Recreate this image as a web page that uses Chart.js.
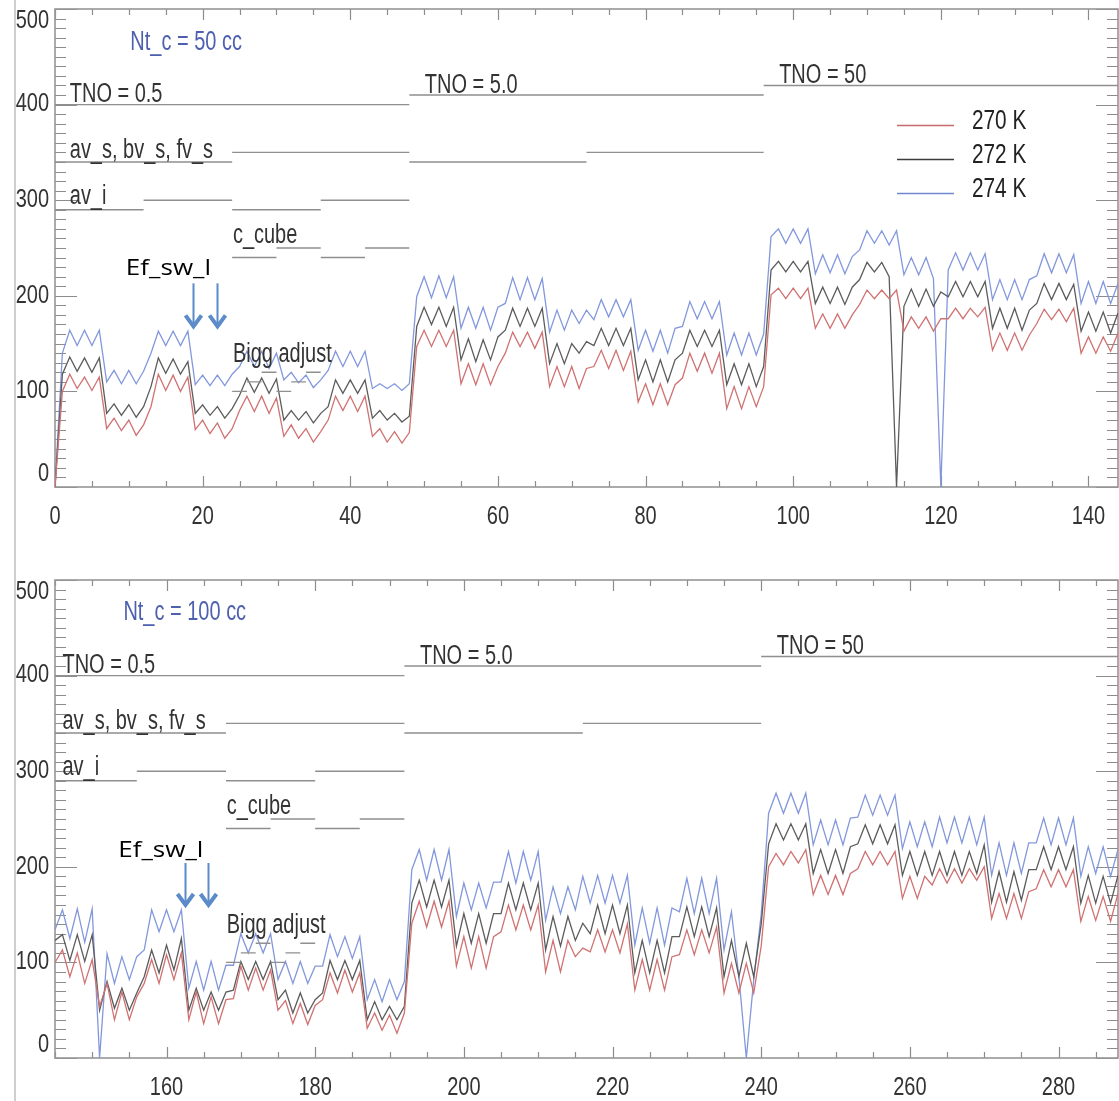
<!DOCTYPE html>
<html>
<head>
<meta charset="utf-8">
<script src="https://cdn.jsdelivr.net/npm/chart.js@4.4.1/dist/chart.umd.min.js"></script>
<style>
  html, body { margin: 0; padding: 0; background: #fff; }
  #page { position: relative; width: 1119px; height: 1101px; overflow: hidden; }
  #edge { position: absolute; left: 14px; top: 0; width: 2px; height: 1101px; background: #cfcfcf; }
  canvas { position: absolute; left: 0; }
  #top { top: 0; }
  #bottom { top: 545px; }
</style>
</head>
<body>
<div id="page">
  <div id="edge"></div>
  <canvas id="top" width="1119" height="545"></canvas>
  <canvas id="bottom" width="1119" height="556"></canvas>
</div>
<script>
var seriesNames = ['270 K', '272 K', '274 K'];
var seriesColors = ['#d07272', '#5c5c5c', '#8398dc'];
var legendColors = ['#c86a6a', '#3c3c3c', '#7088d0'];

var yTickValues = [0, 100, 200, 300, 400, 500];
var topXTicks = [0, 20, 40, 60, 80, 100, 120, 140];
var bottomXTicks = [160, 180, 200, 220, 240, 260, 280];

// Nt_c = 50 cc, runs 0..144
var topStart = 0;
var topRed = [0,
  100,118,103,115,101,115, 61,72,59,70,54,65, 84,118,101,117,100,115, 60,70,56,67,51,61,
  80,95,79,95,77,93, 53,65,51,61,47,58, 70,95,80,95,79,95, 53,61,47,58,46,57,
  147,164,147,164,147,164, 108,129,107,129,107,126, 140,162,147,162,145,162, 105,126,105,126,103,124,
  126,143,124,143,122,142, 89,108,86,108,86,107, 114,140,121,140,119,140, 82,105,82,105,84,105,
  201,208,197,208,197,208, 166,181,166,181,166,180, 191,206,197,206,197,206, 163,178,166,178,163,176,
  176,187,176,187,178,188, 143,161,143,161,143,159, 171,186,175,186,173,187, 140,157,140,157,142,161];
var topBlack = [0,
  118,136,121,135,120,135, 77,87,75,86,73,84, 105,135,119,134,118,131, 77,86,75,84,72,82,
  96,114,99,114,98,113, 70,80,70,79,67,77, 84,112,98,112,98,112, 72,80,70,77,68,74,
  168,188,170,188,168,188, 133,155,131,154,133,157, 164,187,168,187,168,187, 129,150,129,150,140,152,
  148,166,148,166,148,166, 112,133,110,133,110,133, 140,164,147,164,147,164, 107,129,107,129,105,126,
  227,236,225,236,225,236, 192,209,192,209,191,209, 217,235,225,235,220,0, 189,207,189,207,189,204,
  199,215,199,215,199,215, 166,187,166,187,164,185, 192,213,196,213,196,212, 163,183,163,183,161,182];
var topBlue = [0,
  140,164,148,164,148,164, 110,122,108,122,108,121, 140,163,148,163,148,163, 107,117,106,117,106,118,
  126,142,126,142,124,140, 112,120,109,117,104,112, 122,142,126,142,126,142, 103,108,103,108,101,108,
  199,220,198,221,198,220, 166,188,166,188,164,188, 192,219,196,219,196,218, 162,185,164,185,171,185,
  175,196,178,196,178,196, 143,164,142,164,140,166, 168,194,176,194,176,194, 138,161,138,161,138,160,
  262,270,255,270,255,270, 223,243,224,243,223,241, 248,268,255,268,253,268, 222,240,222,240,218,0,
  227,245,227,245,227,244, 196,217,196,217,196,217, 221,244,224,244,224,243, 192,215,192,215,192,213];

// Nt_c = 100 cc, runs 145..288
var bottomStart = 145;
var bottomRed = [
  100,113,85,110,78,103, 54,78,40,69,40,64, 78,103,78,108,82,110, 40,69,36,64,36,61,
  62,96,71,94,71,92, 50,60,36,57,35,55, 61,89,68,92,69,89, 31,47,29,45,26,47,
  141,164,137,164,137,164, 96,127,94,127,94,127, 132,160,134,160,134,160, 90,123,90,123,106,115,
  111,134,111,134,110,140, 71,103,71,103,71,106, 108,134,108,134,110,137, 68,99,68,99,68,117,
  200,214,202,216,204,218, 171,191,171,191,171,193, 198,216,202,216,202,216, 167,190,167,190,181,198,
  183,198,183,198,186,200, 146,172,146,172,146,174, 177,197,179,197,179,197, 143,169,144,169,143,172];
var bottomBlack = [
  123,129,102,129,101,129, 50,80,52,73,50,68, 85,113,89,118,92,125, 50,73,50,69,50,69,
  71,101,82,101,82,101, 61,71,47,68,47,61, 68,102,82,102,82,102, 40,59,40,54,40,54,
  162,186,158,186,158,186, 117,151,120,151,120,151, 151,183,155,183,155,183, 113,148,117,148,123,141,
  130,160,130,160,130,160, 89,123,89,123,89,127, 127,158,127,158,127,157, 85,123,85,120,85,140,
  224,245,228,245,228,245, 193,218,193,218,193,221, 224,244,224,244,224,244, 191,216,191,216,191,216,
  191,216,191,216,193,223, 163,195,163,195,165,197, 197,221,197,221,197,221, 162,191,162,190,162,191];
var bottomBlue = [
  134,155,125,156,121,156, 0,109,78,106,82,106, 113,155,132,155,132,155, 73,101,71,101,71,97,
  97,130,110,130,110,130, 82,101,78,101,78,96, 96,129,106,127,104,127, 61,82,59,82,61,80,
  197,218,186,218,186,218, 148,183,155,183,157,184, 184,216,183,216,186,216, 144,179,151,179,155,190,
  162,191,162,191,162,191, 118,157,120,157,118,157, 153,188,151,188,151,188, 113,153,85,0,82,150,
  256,277,256,277,256,277, 223,249,223,249,223,251, 252,275,254,275,254,275, 219,247,221,247,221,252,
  225,252,225,252,223,252, 191,225,191,225,193,225, 225,251,223,251,223,251, 190,221,193,221,190,218];

// parameter switches: [from run, to run, level]
var tnoSegs = [[0, 48, 400], [48, 96, 410], [96, 144, 420]];
var avsSegs = [[0, 24, 340], [24, 48, 350], [48, 72, 340], [72, 96, 350]];
var aviSegs = [[0, 12, 290], [12, 24, 300], [24, 36, 290], [36, 48, 300]];
var cubeSegs = [[24, 30, 240], [30, 36, 250], [36, 42, 240], [42, 48, 250]];
var biggSegs = [[24, 26, 100], [26, 28, 110], [28, 30, 120], [30, 32, 100], [32, 34, 110], [34, 36, 120]];

var plotFamily = '"Liberation Sans", Arial, sans-serif';
var tickSqueeze = 0.8;   // the original lettering is a narrow Helvetica
var textSqueeze = 0.74;

function linePoints(start, values) {
    return values.map(function(v, i) { return {x: start + i, y: v}; });
}

function segmentPoints(segs, shift) {
    var pts = [];
    segs.forEach(function(s) {
        pts.push({x: s[0] + shift, y: s[2]}, {x: s[1] + shift, y: s[2]}, {x: s[1] + shift, y: null});
    });
    return pts;
}

function narrowText(ctx, text, x, y, sx) {
    ctx.save();
    ctx.translate(x, y);
    ctx.scale(sx, 1);
    ctx.fillText(text, 0, 0);
    ctx.restore();
}

// draw the scale's own label items, only squeezed sideways
function squeezeLabels(scale) {
    if (scale._squeezed) return;
    scale._squeezed = true;
    scale.drawLabels = function(area) {
        var ctx = this.ctx, last = String(yTickValues[yTickValues.length - 1]);
        var isY = this.axis === 'y';
        this.getLabelItems(area).forEach(function(it) {
            var o = it.options, base = o.textBaseline;
            if (isY && it.label === String(yTickValues[0])) base = 'bottom';
            if (isY && it.label === last) base = 'top';
            ctx.save();
            ctx.font = it.font.string;
            ctx.fillStyle = o.color;
            ctx.textAlign = o.textAlign;
            ctx.textBaseline = base;
            narrowText(ctx, it.label, o.translation[0], o.translation[1] + it.textOffset, tickSqueeze);
            ctx.restore();
        });
    };
}

var panelDecor = {
    id: 'panelDecor',
    beforeDraw: function(chart) {
        squeezeLabels(chart.scales.x);
        squeezeLabels(chart.scales.y);
    },
    beforeDatasetsDraw: function(chart) {
        var ctx = chart.ctx, a = chart.chartArea, xs = chart.scales.x, ys = chart.scales.y;
        ctx.save();
        ctx.strokeStyle = '#8c8c8c';
        ctx.lineWidth = 1.2;
        ctx.beginPath();
        for (var v = 0; v <= 500; v += 10) {
            var py = Math.round(ys.getPixelForValue(v)) + 0.5;
            var len = v % 100 === 0 ? 22 : 11;
            ctx.moveTo(a.left, py); ctx.lineTo(a.left + len, py);
            ctx.moveTo(a.right, py); ctx.lineTo(a.right - len, py);
        }
        for (var t = Math.ceil(xs.min / 5) * 5; t <= xs.max; t += 5) {
            var px = Math.round(xs.getPixelForValue(t)) + 0.5;
            var l2 = t % 20 === 0 ? 11 : 6;
            ctx.moveTo(px, a.bottom); ctx.lineTo(px, a.bottom - l2);
            ctx.moveTo(px, a.top); ctx.lineTo(px, a.top + l2);
        }
        ctx.stroke();
        ctx.strokeStyle = '#969696';
        ctx.lineWidth = 1.6;
        ctx.strokeRect(a.left, a.top, a.right - a.left, a.bottom - a.top);
        ctx.restore();
    },
    afterDatasetsDraw: function(chart, args, o) {
        var ctx = chart.ctx, a = chart.chartArea, xs = chart.scales.x, ys = chart.scales.y;
        ctx.save();
        ctx.textAlign = 'left';
        ctx.textBaseline = 'alphabetic';
        ctx.font = '27px ' + plotFamily;
        ctx.fillStyle = '#333';
        o.labels.forEach(function(t) {
            narrowText(ctx, t.text, xs.getPixelForValue(t.x + o.shift), ys.getPixelForValue(t.y), textSqueeze);
        });
        ctx.fillStyle = '#4d5fae';
        narrowText(ctx, o.title, xs.getPixelForValue(o.titleAt[0]), ys.getPixelForValue(o.titleAt[1]), textSqueeze);

        ctx.font = '21px "Open Sans", sans-serif';
        ctx.fillStyle = '#000';
        narrowText(ctx, 'Ef_sw_l', xs.getPixelForValue(o.efAt[0]), ys.getPixelForValue(o.efAt[1]), 1.24);

        ctx.strokeStyle = '#5b8bc8';
        o.arrows.forEach(function(ax) {
            var x0 = Math.round(xs.getPixelForValue(ax)) + 0.5;
            var y0 = ys.getPixelForValue(o.arrowFrom), y1 = ys.getPixelForValue(o.arrowTo);
            ctx.lineWidth = 2;
            ctx.beginPath(); ctx.moveTo(x0, y0); ctx.lineTo(x0, y1 - 2); ctx.stroke();
            ctx.lineWidth = 4;
            ctx.beginPath(); ctx.moveTo(x0 - 8, y1 - 13); ctx.lineTo(x0, y1 - 2); ctx.lineTo(x0 + 8, y1 - 13); ctx.stroke();
        });

        if (o.legend) {
            var lx = a.left + 842, ly = a.top + 116;
            ctx.font = '27px ' + plotFamily;
            ctx.textBaseline = 'middle';
            seriesNames.forEach(function(name, k) {
                var yy = ly + k * 34;
                ctx.strokeStyle = legendColors[k];
                ctx.lineWidth = 1.5;
                ctx.beginPath(); ctx.moveTo(lx, yy + 0.5); ctx.lineTo(lx + 57, yy + 0.5); ctx.stroke();
                ctx.fillStyle = '#222';
                narrowText(ctx, name, lx + 75, yy - 3, 0.77);
            });
        }
        ctx.restore();
    }
};

var guideLabels = [
    {text: 'TNO = 0.5', x: 2, y: 403},
    {text: 'TNO = 5.0', x: 50.1, y: 412},
    {text: 'TNO = 50', x: 98.1, y: 423},
    {text: 'av_s, bv_s, fv_s', x: 2, y: 344},
    {text: 'av_i', x: 2, y: 296},
    {text: 'c_cube', x: 24.1, y: 255},
    {text: 'Bigg adjust', x: 24.1, y: 131}
];

function makePanel(id, p) {
    var datasets = [tnoSegs, avsSegs, aviSegs, cubeSegs, biggSegs].map(function(segs) {
        return {data: segmentPoints(segs, p.shift), borderColor: '#8f8f8f', borderWidth: 1.4,
                pointRadius: 0, spanGaps: false};
    });
    p.series.forEach(function(vals, k) {
        datasets.push({label: seriesNames[k], data: linePoints(p.start, vals),
                       borderColor: seriesColors[k], borderWidth: 1.3, pointRadius: 0});
    });
    var tickFont = {family: plotFamily, size: 25};
    return new Chart(document.getElementById(id), {
        type: 'line',
        data: {datasets: datasets},
        options: {
            responsive: false,
            animation: false,
            events: [],
            layout: {padding: {top: p.padTop, right: 1, left: 0, bottom: 0}},
            plugins: {
                legend: {display: false},
                tooltip: {enabled: false},
                panelDecor: p.decor
            },
            scales: {
                x: {
                    type: 'linear', min: p.xMin, max: p.xMax,
                    grid: {display: false, drawTicks: false},
                    border: {display: false},
                    afterBuildTicks: function(s) { s.ticks = p.xTicks.map(function(v) { return {value: v}; }); },
                    afterFit: function(s) { s.height = p.xAxisHeight; s.paddingLeft = 0; s.paddingRight = 0; },
                    ticks: {font: tickFont, color: '#333', padding: 15, maxRotation: 0, autoSkip: false}
                },
                y: {
                    type: 'linear', min: 0, max: 500,
                    grid: {display: false, drawTicks: false},
                    border: {display: false},
                    afterBuildTicks: function(s) { s.ticks = yTickValues.map(function(v) { return {value: v}; }); },
                    afterFit: function(s) { s.width = 55; s.paddingTop = 0; s.paddingBottom = 0; },
                    ticks: {font: tickFont, color: '#333', padding: 6}
                }
            }
        },
        plugins: [panelDecor]
    });
}

makePanel('top', {
    start: topStart, shift: 0, xMin: 0, xMax: 144, xTicks: topXTicks,
    padTop: 9, xAxisHeight: 58,
    series: [topRed, topBlack, topBlue],
    decor: {shift: 0, labels: guideLabels, title: 'Nt_c = 50 cc', titleAt: [10.2, 457],
            efAt: [9.6, 222], arrows: [18.7, 21.95], arrowFrom: 213, arrowTo: 166, legend: true}
});

makePanel('bottom', {
    start: bottomStart, shift: 144, xMin: 145, xMax: 288, xTicks: bottomXTicks,
    padTop: 35, xAxisHeight: 43,
    series: [bottomRed, bottomBlack, bottomBlue],
    decor: {shift: 144, labels: guideLabels, title: 'Nt_c = 100 cc', titleAt: [154.2, 458],
            efAt: [153.5, 210], arrows: [162.5, 165.6], arrowFrom: 204, arrowTo: 158, legend: false}
});
</script>
</body>
</html>
